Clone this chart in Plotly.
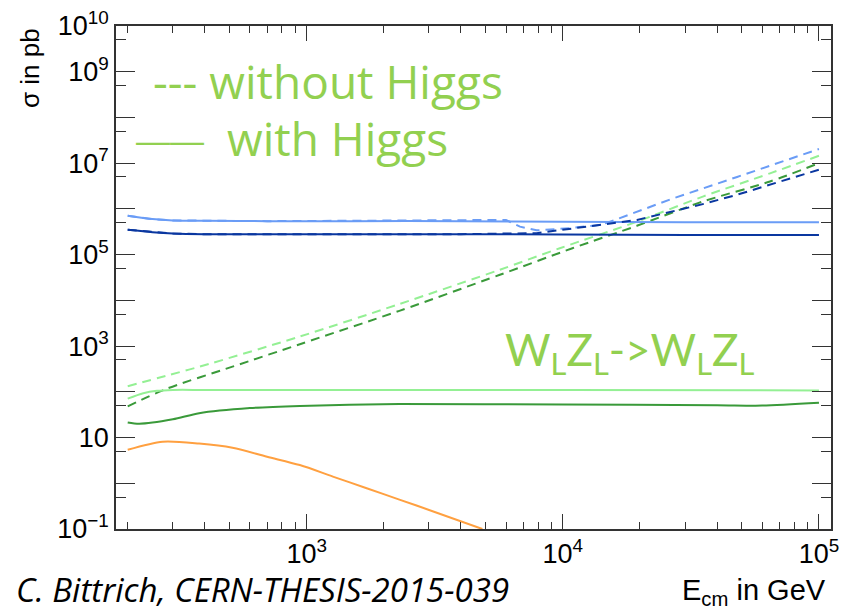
import plotly.graph_objects as go

# ---------------- data ----------------
# energies in GeV, cross sections in pb
E_blue = [200, 250, 300, 400, 700, 1500, 4000, 10000, 30000, 100000]
lightblue_higgs = [7.1e5, 6.0e5, 5.6e5, 5.5e5, 5.4e5, 5.4e5, 5.4e5, 5.25e5, 5.1e5, 5.1e5]
darkblue_higgs = [3.5e5, 3.1e5, 2.9e5, 2.8e5, 2.8e5, 2.8e5, 2.8e5, 2.75e5, 2.7e5, 2.7e5]

E_lightblue_nohiggs = [200, 250, 300, 400, 700, 1500, 4000, 6000, 6800, 7900, 10700,
                       14100, 15800, 26300, 47900, 100000]
lightblue_nohiggs = [7.1e5, 6.0e5, 5.6e5, 5.5e5, 5.4e5, 5.5e5, 5.75e5, 5.75e5, 4.1e5,
                     3.4e5, 3.8e5, 4.5e5, 5.6e5, 1.62e6, 5.0e6, 2.04e7]

E_darkblue_nohiggs = [200, 250, 300, 400, 700, 1500, 4000, 7900, 9700, 12400, 19500,
                      26300, 35500, 47900, 64600, 100000]
darkblue_nohiggs = [3.5e5, 3.1e5, 2.9e5, 2.8e5, 2.8e5, 2.8e5, 2.8e5, 2.95e5, 3.4e5,
                    4.1e5, 5.75e5, 8.7e5, 1.29e6, 2.04e6, 3.39e6, 7.2e6]

E_lightgreen_higgs = [200, 230, 260, 300, 400, 1000, 10000, 100000]
lightgreen_higgs = [71, 93, 105, 110, 110, 110, 110, 107]

E_darkgreen_higgs = [200, 222, 300, 380, 600, 940, 2300, 10000, 40000, 60000, 100000]
darkgreen_higgs = [21.4, 20, 25, 34, 44, 49, 54, 52.5, 51, 50, 57.5]

E_lightgreen_nohiggs = [200, 282, 382, 940, 2300, 5680, 9730, 19450, 35200, 64400, 100000]
lightgreen_nohiggs = [132, 224, 355, 1620, 8300, 4.68e4, 1.38e5, 5.25e5, 1.86e6, 6.0e6, 1.45e7]

E_darkgreen_nohiggs = [200, 282, 513, 940, 2300, 5680, 10900, 19450, 35200, 64400, 100000]
darkgreen_nohiggs = [48, 115, 355, 1100, 5900, 3.63e4, 1.38e5, 4.27e5, 1.45e6, 3.98e6, 1.0e7]

E_orange = [200, 274, 380, 513, 700, 940, 1265, 1714, 2300, 3100, 4850]
orange_higgs = [5.4, 8.1, 7.4, 6.0, 3.8, 2.5, 1.4, 0.78, 0.44, 0.245, 0.1]

x_tickvals = [1e3, 1e4, 1e5]
x_ticktext = ["10<sup>3</sup>", "10<sup>4</sup>", "10<sup>5</sup>"]
x_minor = [m * 10 ** k for k in (2, 3, 4) for m in range(2, 10)]

y_exps = list(range(-1, 11))
y_labels = {-1: "10<sup>\u22121</sup>", 1: "10", 3: "10<sup>3</sup>", 5: "10<sup>5</sup>",
            7: "10<sup>7</sup>", 9: "10<sup>9</sup>", 10: "10<sup>10</sup>"}

# ---------------- colours / styles ----------------
C_LB = "#6A9CF6"
C_DB = "#0A37A0"
C_LG = "#94F094"
C_DG = "#3A9A3A"
C_OR = "#FFA040"
C_TXT = "#92D050"
DASH = "9px,6px"

fig = go.Figure()


def add(x, y, color, dash=None, shape="linear"):
    fig.add_trace(go.Scatter(
        x=x, y=y, mode="lines",
        line=dict(color=color, width=2, dash=dash, shape=shape, smoothing=0.8),
        showlegend=False, hoverinfo="skip"))


add(E_lightgreen_nohiggs, lightgreen_nohiggs, C_LG, DASH, "spline")
add(E_darkgreen_nohiggs, darkgreen_nohiggs, C_DG, DASH, "spline")
add(E_lightgreen_higgs, lightgreen_higgs, C_LG, None, "spline")
add(E_darkgreen_higgs, darkgreen_higgs, C_DG, None, "spline")
add(E_orange, orange_higgs, C_OR, None, "spline")
add(E_blue, lightblue_higgs, C_LB, None, "spline")
add(E_blue, darkblue_higgs, C_DB, None, "spline")
add(E_lightblue_nohiggs, lightblue_nohiggs, C_LB, DASH)
add(E_darkblue_nohiggs, darkblue_nohiggs, C_DB, DASH)

SANS = "Liberation Sans, Arial, sans-serif"
AX_FONT = dict(family=SANS, size=27, color="black")
AX_COL = "#333333"

fig.update_xaxes(
    type="log", range=[2.2553, 5.047], automargin=False,
    showline=True, linecolor=AX_COL, linewidth=1.5, mirror="ticks",
    ticks="inside", ticklen=15, tickwidth=1.2, tickcolor=AX_COL,
    tickmode="array", tickvals=x_tickvals, ticktext=x_ticktext,
    tickfont=AX_FONT, showgrid=False, zeroline=False,
    minor=dict(tickmode="array", tickvals=x_minor, ticks="inside", ticklen=7,
               tickwidth=1.2, tickcolor=AX_COL, showgrid=False),
)
fig.update_yaxes(
    type="log", range=[-1, 10], automargin=False,
    showline=True, linecolor=AX_COL, linewidth=1.5, mirror="ticks",
    ticks="inside", ticklen=19, tickwidth=1.2, tickcolor=AX_COL,
    tickmode="array", tickvals=[10.0 ** e for e in y_exps],
    ticktext=[y_labels.get(e, "") for e in y_exps],
    tickfont=AX_FONT, showgrid=False, zeroline=False,
    minor=dict(tickmode="array", tickvals=[5 * 10.0 ** e for e in range(-1, 10)],
               ticks="inside", ticklen=10, tickwidth=1.2, tickcolor=AX_COL,
               showgrid=False),
)

L, R, T, B = 116, 12, 26, 86
W, H = 843, 615
PW, PH = W - L - R, H - T - B


def px(x):
    return (x - L) / PW


def py(y):
    return (H - B - y) / PH


GREEN_FONT = dict(family="Open Sans, Lato, sans-serif", color=C_TXT)

annots = [
    dict(text="--- without Higgs", x=px(151), y=py(81), xanchor="left", yanchor="middle",
         font=dict(size=46, **GREEN_FONT)),
    dict(text="\u2014\u2014", x=px(134), y=py(140), xanchor="left", yanchor="middle",
         font=dict(family=SANS, size=34, color=C_TXT)),
    dict(text="with Higgs", x=px(225), y=py(138), xanchor="left", yanchor="middle",
         font=dict(size=46, **GREEN_FONT)),
    dict(text="W<sub>L</sub>Z<sub>L</sub>->W<sub>L</sub>Z<sub>L</sub>", x=px(503), y=py(352),
         xanchor="left", yanchor="middle",
         font=dict(family="Lato, sans-serif", size=44, color=C_TXT)),
    dict(text="\u03c3 in pb", x=px(30), y=py(26), xanchor="center", yanchor="top", textangle=-90,
         font=dict(family=SANS, size=26, color="black")),
    dict(text="E<sub>cm</sub> in GeV", x=px(828), y=py(612), xanchor="right", yanchor="bottom",
         font=dict(family=SANS, size=29, color="black")),
    dict(text="<i>C. Bittrich, CERN-THESIS-2015-039</i>", x=px(14), y=py(614), xanchor="left",
         yanchor="bottom", font=dict(family="Open Sans, Lato, sans-serif", size=33, color="black")),
]
for a in annots:
    a.update(xref="paper", yref="paper", showarrow=False)

fig.update_layout(
    width=W, height=H, margin=dict(l=L, r=R, t=T, b=B),
    paper_bgcolor="white", plot_bgcolor="white",
    annotations=annots,
)

fig.write_html("out.html")
